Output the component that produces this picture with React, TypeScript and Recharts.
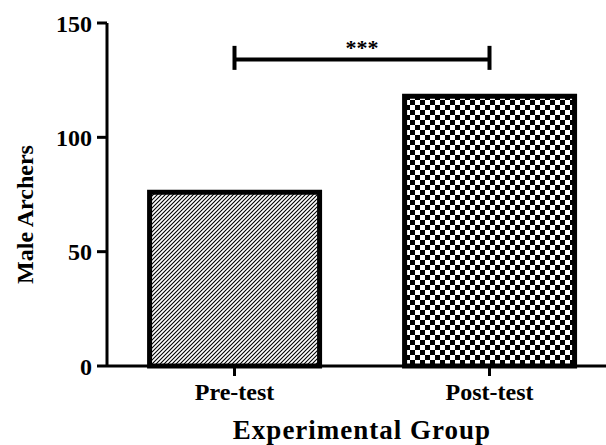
import { BarChart, Bar, XAxis, YAxis, Cell, ReferenceLine } from 'recharts';

const groups = ['Pre-test', 'Post-test'];
const maleArchers = [76, 118];
const fills = ['url(#hatch)', 'url(#checker)'];
const yTicks = [0, 50, 100, 150];
const sigLevel = 134;
const sigCap = [129.5, 140];
const sigText = '***';

const data = groups.map((g, i) => ({ group: g, value: maleArchers[i] }));

const font = 'Liberation Serif, Times New Roman, serif';

const YLabel = (props: any) => {
  const vb = props.viewBox || {};
  const cx = (vb.x || 0) + 17;
  const cy = (vb.y || 0) + (vb.height || 0) / 2 + 20;
  return (
    <text
      x={cx}
      y={cy}
      transform={`rotate(-90, ${cx}, ${cy})`}
      textAnchor="middle"
      dominantBaseline="central"
      fontFamily={font}
      fontWeight="bold"
      fontSize={24}
      fill="#000"
    >
      Male Archers
    </text>
  );
};

const XLabel = (props: any) => {
  const vb = props.viewBox || {};
  return (
    <text
      x={(vb.x || 0) + (vb.width || 0) / 2}
      y={(vb.y || 0) + 73}
      textAnchor="middle"
      fontFamily={font}
      fontWeight="bold"
      fontSize={27}
      letterSpacing={1}
      fill="#000"
    >
      Experimental Group
    </text>
  );
};

export default function App() {
  const tick = { fill: '#000', fontSize: 24, fontWeight: 'bold', fontFamily: font };
  const line = { stroke: '#000', strokeWidth: 3 };
  return (
    <div style={{ position: 'absolute', left: 0, top: 0, width: 606, height: 445, overflow: 'hidden' }}>
      <BarChart
        width={628}
        height={445}
        data={data}
        margin={{ top: 23, right: 11, bottom: 0, left: 8 }}
        barCategoryGap="16.7%"
      >
        <defs>
          <pattern id="hatch" width={4} height={4} patternUnits="userSpaceOnUse">
            <rect width={4} height={4} fill="#fff" />
            <path d="M-1,1 l2,-2 M0,4 l4,-4 M3,5 l2,-2" stroke="#000" strokeWidth={1.1} />
          </pattern>
          <pattern id="checker" width={10} height={10} patternUnits="userSpaceOnUse">
            <rect width={10} height={10} fill="#fff" />
            <rect x={0} y={0} width={5} height={5} fill="#000" />
            <rect x={5} y={5} width={5} height={5} fill="#000" />
          </pattern>
        </defs>
        <XAxis
          dataKey="group"
          height={79}
          axisLine={line}
          tickLine={line}
          tickSize={10}
          tickMargin={7}
          tick={tick}
          label={XLabel}
        />
        <YAxis
          width={99}
          domain={[0, 150]}
          ticks={yTicks}
          interval={0}
          axisLine={line}
          tickLine={line}
          tickSize={10}
          tickMargin={5}
          tick={tick}
          label={YLabel}
        />
        <Bar dataKey="value" stroke="#000" strokeWidth={5} isAnimationActive={false}>
          {data.map((d, i) => (
            <Cell key={d.group} fill={fills[i]} />
          ))}
        </Bar>
        <ReferenceLine
          segment={[
            { x: groups[0], y: sigLevel },
            { x: groups[1], y: sigLevel },
          ]}
          stroke="#000"
          strokeWidth={4}
          ifOverflow="visible"
          label={{ value: sigText, position: 'top', offset: 5, fill: '#000', fontSize: 22, fontWeight: 'bold', fontFamily: font }}
        />
        {groups.map((g) => (
          <ReferenceLine
            key={g}
            segment={[
              { x: g, y: sigCap[0] },
              { x: g, y: sigCap[1] },
            ]}
            stroke="#000"
            strokeWidth={4}
            ifOverflow="visible"
          />
        ))}
      </BarChart>
    </div>
  );
}
